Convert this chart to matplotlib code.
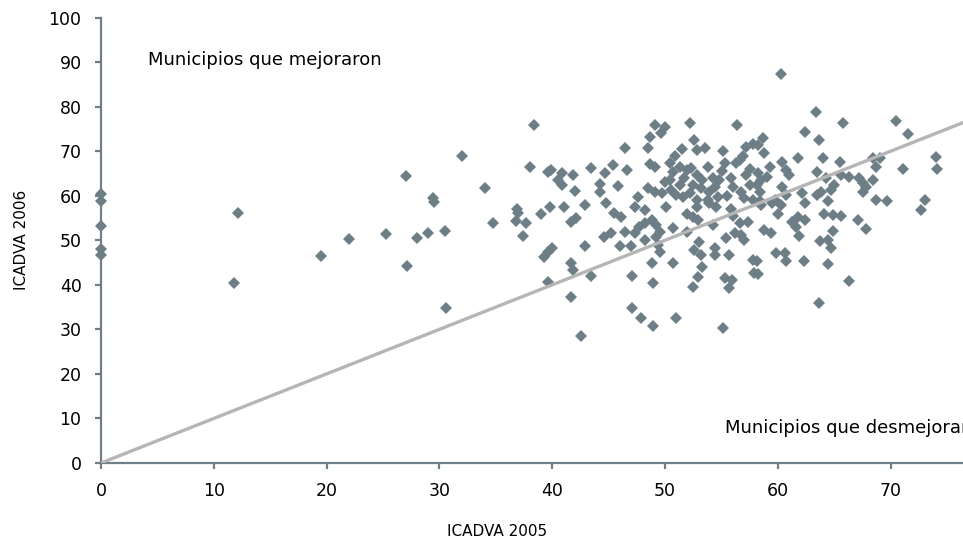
import matplotlib.pyplot as plt

# ICADVA 2005 (x) vs ICADVA 2006 (y)
icadva_2005 = [
    0, 0, 0, 0, 0, 12.1, 11.8, 19.5, 22.0, 25.3, 27.0, 27.1, 28.0, 29.0, 29.4, 29.5,
    30.5, 30.6, 32.0, 34.0, 34.7, 36.8, 36.9, 37.0, 37.4, 37.7, 38.0, 38.4, 39.0, 39.3,
    39.6, 39.6, 39.6,
    49.1, 48.7, 46.4, 48.5, 48.7, 39.9, 40.9, 41.8, 40.5, 40.9, 43.4, 45.4, 44.7, 46.6,
    44.2, 44.2, 45.8, 42.0, 39.8, 41.0, 42.9, 44.8, 47.6, 48.5, 47.3,
    41.7, 42.1, 40.0, 42.9, 44.6, 45.2, 46.4, 47.3, 46.0, 47.0, 48.2, 41.7, 41.8, 43.4,
    47.1, 48.8, 48.9, 41.7, 47.1, 47.9, 48.9, 42.5, 45.5, 46.1, 48.2, 48.2, 48.8, 47.7,
    52.2, 56.4, 50.0, 49.6, 52.6, 53.5, 52.8, 55.1, 55.3, 57.2, 57.8, 56.6, 56.3, 49.1,
    50.4, 50.7, 51.3, 51.9, 52.3, 52.8, 51.7, 50.4, 50.0, 51.3, 52.5, 53.3, 54.2, 54.8,
    57.2, 57.5, 58.2, 53.2, 53.9, 54.4, 49.1, 49.7, 50.5, 51.0, 51.6, 52.2, 52.8, 53.8,
    54.7, 56.7, 57.0, 57.8, 52.8, 53.9, 54.5, 50.1,
    49.2, 49.5, 49.2, 49.4, 49.5, 50.7, 51.9, 51.9, 52.5, 52.9, 54.2, 53.0, 52.6, 53.2,
    54.4, 54.4, 53.3, 50.7, 55.7, 55.4, 56.2, 56.7, 57.0, 56.6, 57.3, 57.8, 57.9, 52.9,
    52.5, 55.3, 55.9, 55.7, 51.0, 55.1, 55.8, 56.0,
    60.3, 63.4, 65.8, 70.5, 71.5, 62.4, 63.6, 58.7, 58.2, 61.8, 64.0, 65.5, 59.3, 60.4,
    60.7, 61.0, 58.5, 58.1, 63.5, 64.3, 65.0, 64.7, 65.6, 66.3, 67.2, 67.5, 68.4, 68.4,
    69.0, 68.7, 71.1, 74.0, 74.1, 63.8, 63.5, 67.5, 67.8, 62.1, 60.4, 60.7, 58.4, 68.7,
    69.7, 73.0, 62.4, 64.4, 59.7, 60.3, 58.4,
    72.7, 58.5, 59.5, 60.0, 61.2, 61.8, 62.4, 61.6, 64.1, 64.9, 65.6, 67.1, 67.8, 58.8,
    59.4, 61.9, 64.9, 63.7, 64.4, 64.7, 59.8, 60.6, 60.7, 58.1, 62.3, 64.4, 58.2, 66.3,
    63.6,
    56.9, 57.5, 55.8, 56.0, 55.5, 58.8, 59.0, 55.0, 53.8, 50.9, 51.5,
]
icadva_2006 = [
    60.3, 58.7, 53.2, 48.0, 46.7, 56.2, 40.5, 46.5, 50.2, 51.4, 64.4, 44.3, 50.6, 51.7, 59.5, 58.6,
    52.1, 34.9, 68.8, 61.7, 53.9, 54.4, 57.0, 56.2, 51.0, 53.9, 66.5, 75.9, 55.9, 46.3,
    40.7, 65.4, 47.4,
    75.9, 73.2, 70.6, 70.6, 67.1, 65.8, 65.0, 64.6, 63.5, 62.4, 66.3, 66.9, 65.0, 65.8,
    62.6, 60.9, 62.2, 61.1, 57.5, 57.5, 57.8, 58.3, 59.8, 61.7, 57.5,
    54.2, 54.9, 48.3, 48.6, 50.8, 51.6, 51.9, 51.6, 48.6, 48.6, 50.1, 44.8, 43.3, 42.0,
    42.0, 44.8, 40.3, 37.2, 34.9, 32.5, 30.8, 28.4, 56.1, 55.2, 56.8, 53.9, 54.5, 53.0,
    76.3, 75.9, 75.5, 74.0, 72.5, 70.6, 70.3, 70.1, 67.3, 71.0, 71.7, 68.0, 67.3, 66.5,
    67.3, 65.4, 66.5, 65.8, 66.2, 64.6, 63.9, 63.5, 63.1, 62.4, 62.4, 63.5, 63.9, 63.5,
    64.6, 62.4, 65.0, 61.7, 60.9, 62.0, 60.9, 60.5, 61.3, 60.2, 59.8, 60.5, 59.0, 59.0,
    59.8, 60.9, 59.4, 59.0, 57.5, 58.3, 57.5, 57.5,
    53.4, 51.9, 50.8, 48.9, 47.4, 52.7, 51.9, 56.0, 55.3, 54.5, 53.4, 49.7, 47.8, 46.7,
    48.2, 46.7, 44.1, 44.8, 46.7, 50.4, 51.6, 51.2, 50.1, 53.8, 54.2, 45.6, 42.6, 41.8,
    39.6, 41.5, 41.1, 39.2, 32.5, 30.2, 57.0, 55.5,
    87.3, 78.9, 76.3, 76.8, 73.8, 74.4, 72.5, 72.9, 71.4, 68.4, 68.4, 67.6, 66.5, 67.6,
    65.8, 64.6, 63.5, 62.4, 65.4, 63.9, 62.4, 61.3, 64.6, 64.3, 63.9, 62.8, 63.5, 68.4,
    68.4, 66.5, 66.1, 68.6, 66.1, 60.9, 60.2, 60.9, 62.0, 60.5, 62.0, 60.2, 60.9, 59.0,
    58.7, 59.0, 58.3, 58.7, 59.0, 57.9, 58.7,
    56.9, 57.9, 58.3, 56.0, 54.2, 55.3, 54.5, 53.0, 56.0, 55.7, 55.4, 54.5, 52.5, 52.3,
    51.6, 51.0, 52.1, 49.9, 50.1, 48.2, 47.1, 47.1, 45.4, 45.4, 45.4, 44.7, 42.4, 40.9,
    36.0,
    69.0, 66.0, 64.0, 62.0, 60.0, 69.5, 64.2, 65.5, 66.5, 69.0, 70.5,
]

ref_line = [0, 100]
x_ticks = [0, 10, 20, 30, 40, 50, 60, 70]
y_ticks = [0, 10, 20, 30, 40, 50, 60, 70, 80, 90, 100]

plt.rcParams['font.family'] = ['DejaVu Sans']
axis_col = '#6e7f87'

fig = plt.figure(figsize=(9.63, 5.42), dpi=100)
ax = fig.add_axes([0.1049, 0.1458, 0.8951, 0.8219])

ax.plot(ref_line, ref_line, color='#b5b5b5', lw=2.4, zorder=3)
ax.plot(icadva_2005, icadva_2006, linestyle='none', marker='D', ms=6.3,
        color='#6d7e86', markeredgewidth=0, zorder=2, clip_on=False)

ax.set_xlim(0, 76.4)
ax.set_ylim(0, 100)
ax.set_xticks(x_ticks)
ax.set_yticks(y_ticks)

for s in ['top', 'right']:
    ax.spines[s].set_visible(False)
for s in ['left', 'bottom']:
    ax.spines[s].set_color(axis_col)
    ax.spines[s].set_linewidth(1.6)

ax.tick_params(axis='both', colors=axis_col, labelcolor='black', labelsize=12.5,
               length=4, width=1.6, direction='out')
ax.tick_params(axis='x', pad=10)
ax.tick_params(axis='y', pad=10)

ax.set_xlabel('ICADVA 2005', fontsize=11)
ax.set_ylabel('ICADVA 2006', fontsize=11)
ax.xaxis.label.set_va('center')
ax.yaxis.label.set_va('center')
ax.xaxis.set_label_coords(0.459, -0.153)
ax.yaxis.set_label_coords(-0.092, 0.5)

ax.text(4.2, 90.5, 'Municipios que mejoraron', fontsize=13, va='center', ha='left')
# this one runs past the right edge, as in the source chart
ax.text(55.3, 7.9, 'Municipios que desmejoraron', fontsize=13, va='center', ha='left',
        clip_on=False)

fig.savefig('out.png', dpi=100)
